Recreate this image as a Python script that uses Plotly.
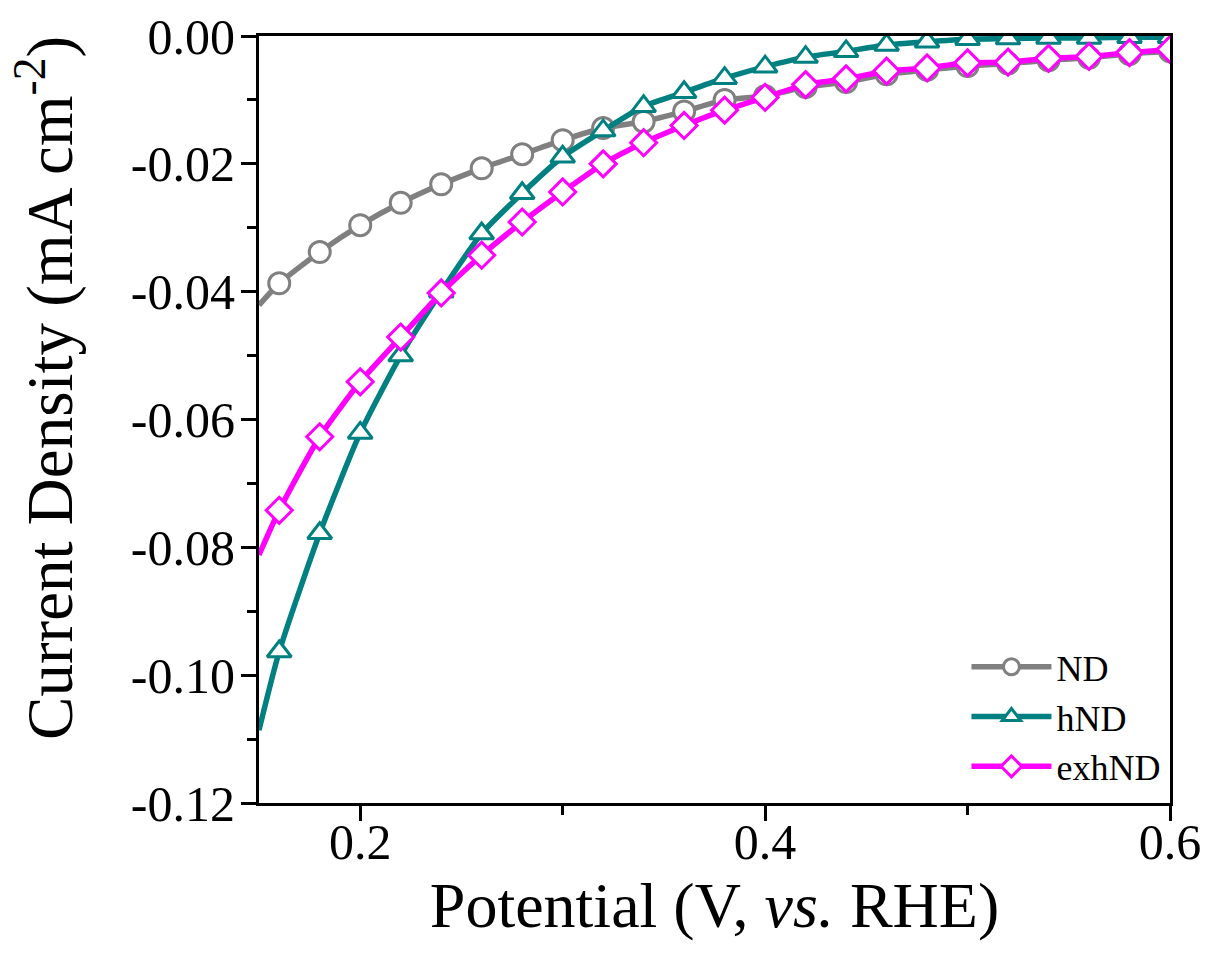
import plotly.graph_objects as go

potential = [0.15, 0.16, 0.18, 0.20, 0.22, 0.24, 0.26, 0.28, 0.30, 0.32, 0.34, 0.36,
             0.38, 0.40, 0.42, 0.44, 0.46, 0.48, 0.50, 0.52, 0.54, 0.56, 0.58, 0.60]

nd = [-0.0421, -0.0387, -0.0338, -0.0296, -0.0261, -0.0232, -0.0207, -0.0185, -0.0163,
      -0.0144, -0.0134, -0.0118, -0.0100, -0.0094, -0.0080, -0.0072, -0.0060, -0.0053,
      -0.0047, -0.0043, -0.0038, -0.0034, -0.0028, -0.0024]

hnd = [-0.1086, -0.0963, -0.0778, -0.0621, -0.0500, -0.0400, -0.0309, -0.0246, -0.0189,
       -0.0148, -0.0110, -0.0088, -0.0066, -0.0048, -0.0033, -0.0024, -0.0014, -0.0009,
       -0.0005, -0.0004, -0.0003, -0.0003, -0.0002, -0.0002]

exhnd = [-0.0812, -0.0742, -0.0627, -0.0541, -0.0471, -0.0402, -0.0343, -0.0291, -0.0244,
         -0.0200, -0.0167, -0.0140, -0.0116, -0.0096, -0.0076, -0.0067, -0.0055, -0.0050,
         -0.0042, -0.0041, -0.0035, -0.0032, -0.0026, -0.0021]

series_names = ["ND", "hND", "exhND"]
series_colors = ["#808080", "#008080", "#FF00FF"]
series_symbols = ["circle", "triangle-up", "diamond"]
series_sizes = [21, 21, 20]

y_ticks = [0.00, -0.02, -0.04, -0.06, -0.08, -0.10, -0.12]
x_ticks = [0.2, 0.4, 0.6]

FONT = "Liberation Serif, Times New Roman, serif"

fig = go.Figure()
for name, ys, col, sym, sz in zip(series_names, [nd, hnd, exhnd], series_colors,
                                   series_symbols, series_sizes):
    # marker shown from 0.16 onwards; first point only carries the line
    msize = [0] + [sz] * (len(potential) - 1)
    fig.add_trace(go.Scatter(
        x=potential, y=ys, name=name, mode="lines+markers",
        line=dict(color=col, width=5.5, shape="spline", smoothing=0.6),
        marker=dict(symbol=sym, size=msize, color="white", opacity=1,
                    line=dict(color=col, width=3)),
    ))

axis_common = dict(
    showline=True, linecolor="black", linewidth=3, mirror=True,
    ticks="outside", tickcolor="black", tickwidth=3, ticklen=15,
    showgrid=False, zeroline=False,
    tickfont=dict(family=FONT, size=50, color="black"),
)

fig.update_xaxes(
    range=[0.15, 0.6], tickvals=x_ticks, ticktext=[f"{v:.1f}" for v in x_ticks],
    minor=dict(dtick=0.1, tick0=0.2, ticks="outside", ticklen=9, tickwidth=3, tickcolor="black"),
    title=dict(text="Potential (V, <i>vs.</i> RHE)", font=dict(family=FONT, size=64, color="black"), standoff=10),
    ticklabelstandoff=-22,
    **axis_common,
)
fig.update_yaxes(
    range=[-0.12, 0.0], tickvals=y_ticks, ticktext=[f"{v:.2f}" for v in y_ticks],
    minor=dict(dtick=0.01, tick0=0, ticks="outside", ticklen=9, tickwidth=3, tickcolor="black"),
    ticklabelstandoff=-4,
    **axis_common,
)

fig.update_layout(
    width=1207, height=958,
    margin=dict(l=259, r=37, t=36, b=155, autoexpand=False),
    paper_bgcolor="white", plot_bgcolor="white",
    showlegend=True,
    legend=dict(x=0.995, y=0.008, xanchor="right", yanchor="bottom",
                font=dict(family=FONT, size=36, color="black"),
                bgcolor="rgba(0,0,0,0)", tracegroupgap=0, itemwidth=80),
    annotations=[dict(
        text="Current Density (mA cm<sup>-2</sup>)", textangle=-90,
        xref="paper", yref="paper", x=-0.235, y=0.541,
        xanchor="center", yanchor="middle", showarrow=False,
        font=dict(family=FONT, size=65, color="black"),
    )],
)

fig.write_html("out.html")
